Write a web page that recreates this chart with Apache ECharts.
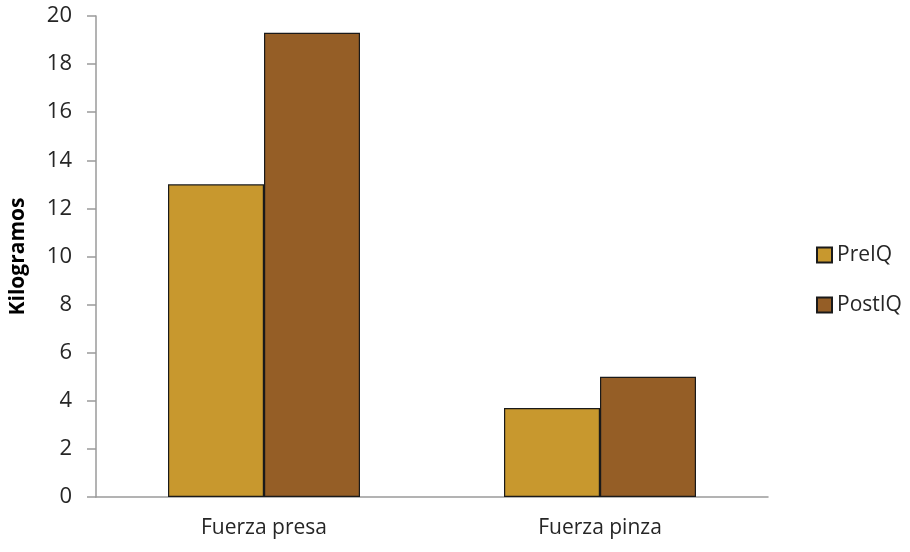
<!DOCTYPE html>
<html>
<head>
<meta charset="utf-8">
<script src="https://cdn.jsdelivr.net/npm/echarts@6/dist/echarts.min.js"></script>
<style>
  html, body { margin: 0; padding: 0; background: #fff; }
  #chart { width: 910px; height: 552px; }
</style>
</head>
<body>
<div id="chart"></div>
<script>
// Grip strength before and after surgery (kg)
const categories = ['Fuerza presa', 'Fuerza pinza'];
const preIQ = [13.0, 3.7];
const postIQ = [19.3, 5.0];
const seriesNames = ['PreIQ', 'PostIQ'];
const yTicks = { min: 0, max: 20, interval: 2 };

const FONT = '"Open Sans", sans-serif';
const TEXT = '#262626';
const chart = echarts.init(document.getElementById('chart'), null, { renderer: 'canvas' });

chart.setOption({
  animation: false,
  backgroundColor: '#ffffff',
  grid: {
    left: 96, right: 142, top: 16, bottom: 55,
    containLabel: false,
    outerBoundsMode: 'none'
  },
  legend: {
    orient: 'vertical',
    left: 811,
    top: 239,
    itemWidth: 15,
    itemHeight: 15,
    itemGap: 28,
    icon: 'rect',
    textStyle: { fontFamily: FONT, fontSize: 21, color: TEXT, lineHeight: 22 },
    data: seriesNames
  },
  xAxis: {
    type: 'category',
    data: categories,
    axisLine: { lineStyle: { color: '#9a9a9a', width: 1.5 } },
    axisTick: { show: false },
    axisLabel: { fontFamily: FONT, fontSize: 21, color: TEXT, margin: 21 }
  },
  yAxis: {
    type: 'value',
    min: yTicks.min,
    max: yTicks.max,
    interval: yTicks.interval,
    name: 'Kilogramos',
    nameLocation: 'middle',
    nameGap: 67,
    nameTextStyle: { fontFamily: FONT, fontSize: 21, fontWeight: 'bold', color: '#000' },
    axisLine: { show: true, lineStyle: { color: '#9a9a9a', width: 1.5 } },
    axisTick: { show: true, inside: false, length: 9, lineStyle: { color: '#9a9a9a', width: 1.5 } },
    axisLabel: { fontFamily: FONT, fontSize: 22, color: TEXT, margin: 24 },
    splitLine: { show: false }
  },
  series: [
    {
      name: seriesNames[0],
      type: 'bar',
      data: preIQ,
      barWidth: 96,
      barGap: '0%',
      itemStyle: { color: '#C8982E', borderColor: '#1a1a1a', borderWidth: 1.2 }
    },
    {
      name: seriesNames[1],
      type: 'bar',
      data: postIQ,
      barWidth: 96,
      barGap: '0%',
      itemStyle: { color: '#955E26', borderColor: '#1a1a1a', borderWidth: 1.2 }
    }
  ]
});
</script>
</body>
</html>
